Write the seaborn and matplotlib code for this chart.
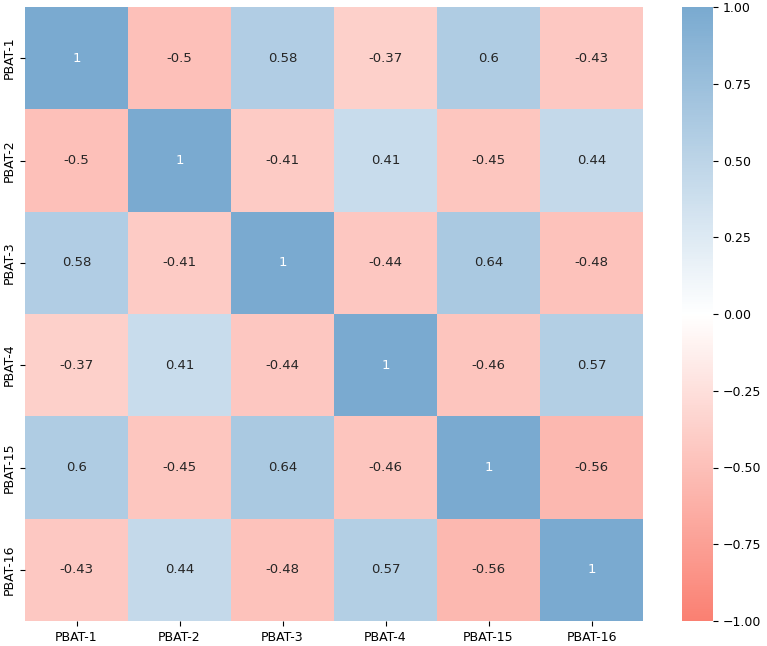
import numpy as np
import pandas as pd
import matplotlib
matplotlib.use("Agg")
import matplotlib.pyplot as plt
import seaborn as sns
from matplotlib.colors import LinearSegmentedColormap

labels = ["PBAT-1", "PBAT-2", "PBAT-3", "PBAT-4", "PBAT-15", "PBAT-16"]
row_1 = [1, -0.5, 0.58, -0.37, 0.6, -0.43]
row_2 = [-0.5, 1, -0.41, 0.41, -0.45, 0.44]
row_3 = [0.58, -0.41, 1, -0.44, 0.64, -0.48]
row_4 = [-0.37, 0.41, -0.44, 1, -0.46, 0.57]
row_15 = [0.6, -0.45, 0.64, -0.46, 1, -0.56]
row_16 = [-0.43, 0.44, -0.48, 0.57, -0.56, 1]

corr = pd.DataFrame([row_1, row_2, row_3, row_4, row_15, row_16],
                    index=labels, columns=labels)

cmap = LinearSegmentedColormap.from_list("salmon_blue", ["#fa8072", "#ffffff", "#7aaad0"])

W, H = 767, 646
fig = plt.figure(figsize=(W / 100, H / 100), dpi=100)
# heatmap and colorbar placed to match the reference layout
ax = fig.add_axes([25 / W, (H - 621) / H, (643 - 25) / W, 614 / H])
cax = fig.add_axes([682 / W, (H - 621) / H, 31 / W, 614 / H])
sns.heatmap(corr, annot=True, cmap=cmap, vmin=-1, vmax=1, center=0, ax=ax,
            cbar_ax=cax, annot_kws={"fontsize": 9.5})
ax.tick_params(axis="both", labelsize=9)
cax.tick_params(labelsize=9)
fig.savefig("out.png", dpi=100)
